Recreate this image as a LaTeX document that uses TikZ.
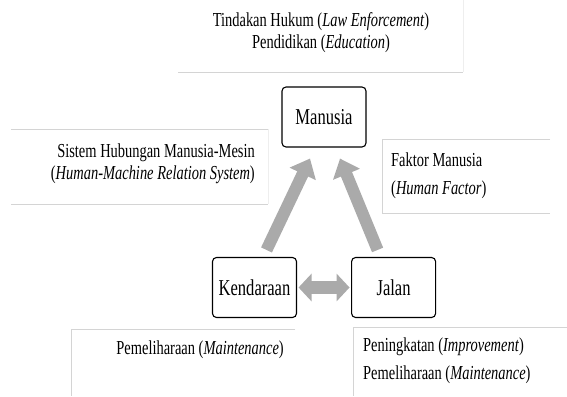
\documentclass[tikz,border=0pt]{standalone}
\usepackage{fontspec}
\setmainfont[FakeStretch=0.73]{Liberation Serif}
\usetikzlibrary{arrows.meta, positioning}
\definecolor{arrowgray}{RGB}{170,170,170}
\definecolor{panelgray}{RGB}{212,212,212}
\definecolor{faintgray}{RGB}{238,238,238}
\tikzset{
  factor/.style={draw=black, line width=1.1pt, rounded corners=4pt, minimum width=84pt,
                 minimum height=60pt, font=\fontsize{22.7}{26}\selectfont},
  note/.style={inner sep=0pt, font=\fontsize{19.8}{22}\selectfont},
  widenote/.style={note, font=\fontsize{19.8}{28}\selectfont},
  panel/.style={draw=panelgray, line width=0.6pt},
  bigarrow/.style={draw=arrowgray, line width=12pt, -{Triangle[width=28pt,length=17pt]}},
}

\begin{document}
\begin{tikzpicture}[x=1pt, y=-1pt]
  \useasboundingbox (0,0) rectangle (567,396);
  % text panels
  \draw[panel] (178,72) -- (463,72);
  \draw[faintgray, line width=0.6pt] (463,0) -- (463,72);
  \draw[panel] (11,129) -- (268,129);
  \draw[panel] (11,204) -- (268,204);
  \draw[faintgray, line width=0.6pt] (268,129) -- (268,204);
  \draw[panel] (550,139) -- (382,139) -- (382,213) -- (550,213);
  \draw[panel] (295,329) -- (71,329) -- (71,396);
  \draw[panel] (567,327) -- (353,327) -- (353,396);

  % factors
  \node[factor] (man) at (324,117) {Manusia};
  \node[factor] (kend) at (254.5,287.5) {Kendaraan};
  \node[factor, right=54pt of kend] (jalan) {Jalan};

  \draw[bigarrow] ([xshift=12pt,yshift=7pt]kend.north) -- ([xshift=-14pt,yshift=-11pt]man.south);
  \draw[bigarrow] ([xshift=-16pt,yshift=7pt]jalan.north) -- ([xshift=16pt,yshift=-11pt]man.south);
  \draw[draw=arrowgray, line width=13pt,
        {Triangle[width=27pt,length=13pt]}-{Triangle[width=27pt,length=13pt]},
        shorten <=1.5pt, shorten >=1.5pt] (kend) -- (jalan);

  % notes
  \node[note, align=center] (law) at (321,32.5)
    {Tindakan Hukum (\textit{Law Enforcement})\\Pendidikan (\textit{Education})};
  \node[note, align=right, anchor=east] (hmrs) at (255,164)
    {Sistem Hubungan Manusia-Mesin\\(\textit{Human-Machine Relation System})};
  \node[widenote, align=left, anchor=west] (hf) at (391,176)
    {Faktor Manusia\\(\textit{Human Factor})};
  \node[note, anchor=east] (kmaint) at (284,350) {Pemeliharaan (\textit{Maintenance})};
  \node[widenote, align=left, anchor=west] (jimp) at (363,361)
    {Peningkatan (\textit{Improvement})\\Pemeliharaan (\textit{Maintenance})};
\end{tikzpicture}
\end{document}
